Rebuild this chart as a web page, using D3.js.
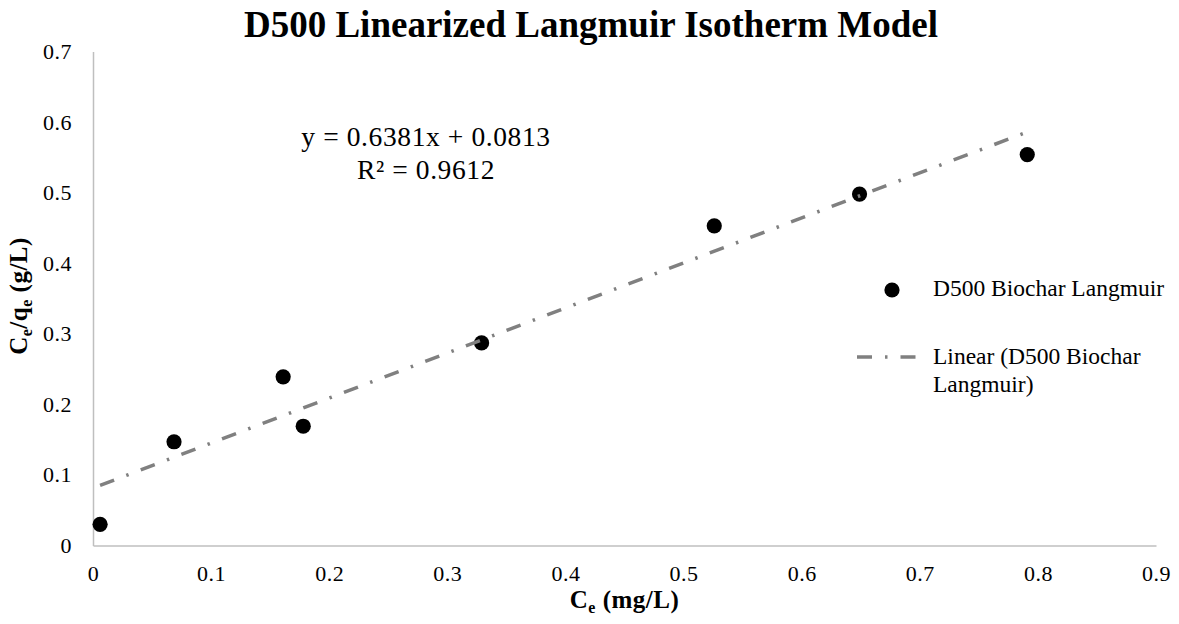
<!DOCTYPE html>
<html><head><meta charset="utf-8">
<script src="https://cdn.jsdelivr.net/npm/d3@7"></script>
<style>body{margin:0;background:#fff}svg{display:block}text{font-family:"Liberation Serif","Times New Roman",serif}</style>
</head><body><svg id="c" width="1179" height="624"></svg>
<script>
const ceValues = [0.006, 0.0686, 0.161, 0.178, 0.329, 0.526, 0.649, 0.791];
const ceQeValues = [0.030, 0.147, 0.239, 0.169, 0.287, 0.453, 0.498, 0.554];
const xTicks = [0, 0.1, 0.2, 0.3, 0.4, 0.5, 0.6, 0.7, 0.8, 0.9];
const yTicks = [0, 0.1, 0.2, 0.3, 0.4, 0.5, 0.6, 0.7];
const slope = 0.6381, intercept = 0.0813, r2 = 0.9612;
const titleText = "D500 Linearized Langmuir Isotherm Model";
const seriesName = "D500 Biochar Langmuir";

const svg = d3.select("#c");
const x = d3.scaleLinear().domain([0, 0.9]).range([93, 1156]);
const y = d3.scaleLinear().domain([0, 0.7]).range([545.5, 51.5]);

// axes
const xAxis = svg.append("g").attr("transform", `translate(0,${y(0)})`)
  .call(d3.axisBottom(x).tickValues(xTicks).tickSize(0).tickPadding(20).tickFormat(d => d === 0 ? "0" : d3.format(".1f")(d)));
const yAxis = svg.append("g").attr("transform", `translate(${x(0)},0)`)
  .call(d3.axisLeft(y).tickValues(yTicks).tickSize(0).tickPadding(21).tickFormat(d => d === 0 ? "0" : d3.format(".1f")(d)));
[xAxis, yAxis].forEach(g => {
  g.attr("font-family", null).attr("font-size", null);
  g.select(".domain").attr("stroke", "#bfbfbf").attr("stroke-width", 1.5);
  g.selectAll("text").style("font-family", "'Liberation Serif', serif").style("font-size", "22px").attr("fill", "#000")
    .attr("letter-spacing", 0.5);
});

// points
svg.append("g").selectAll("circle").data(ceValues).join("circle")
  .attr("cx", (d) => x(d)).attr("cy", (d, i) => y(ceQeValues[i])).attr("r", 7.6).attr("fill", "#000");

// trendline
const [xmin, xmax] = d3.extent(ceValues);
svg.append("line")
  .attr("x1", x(xmin)).attr("y1", y(intercept + slope * xmin))
  .attr("x2", x(xmax)).attr("y2", y(intercept + slope * xmax))
  .attr("stroke", "#808080").attr("stroke-width", 3.5)
  .attr("stroke-dasharray", "15,13,2.5,13");

// title
svg.append("text").attr("x", 591).attr("y", 37).attr("text-anchor", "middle")
  .attr("font-size", 37).attr("font-weight", "bold").text(titleText);

// equation
svg.append("text").attr("x", 426).attr("y", 146).attr("text-anchor", "middle").attr("font-size", 27.5)
  .attr("letter-spacing", 0.6).text(`y = ${slope}x + ${intercept}`);
svg.append("text").attr("x", 426).attr("y", 179).attr("text-anchor", "middle").attr("font-size", 27.5)
  .attr("letter-spacing", 0.6).text(`R² = ${r2}`);

// axis titles
const xt = svg.append("text").attr("x", 624.5).attr("y", 608).attr("text-anchor", "middle")
  .attr("font-size", 25).attr("font-weight", "bold").attr("letter-spacing", 0.5);
xt.append("tspan").text("C");
xt.append("tspan").attr("font-size", 16).attr("dy", 5).text("e");
xt.append("tspan").attr("dy", -5).text(" (mg/L)");

const yt = svg.append("text").attr("transform", "translate(27,296) rotate(-90)").attr("text-anchor", "middle")
  .attr("font-size", 25).attr("font-weight", "bold").attr("letter-spacing", 0.5);
yt.append("tspan").text("C");
yt.append("tspan").attr("font-size", 16).attr("dy", 5).text("e");
yt.append("tspan").attr("dy", -5).text("/q");
yt.append("tspan").attr("font-size", 16).attr("dy", 5).text("e");
yt.append("tspan").attr("dy", -5).text(" (g/L)");

// legend
const lg = svg.append("g");
lg.append("circle").attr("cx", 892).attr("cy", 290).attr("r", 7.6).attr("fill", "#000");
lg.append("text").attr("x", 933).attr("y", 296).attr("font-size", 23.5).text(seriesName);
lg.append("line").attr("x1", 857).attr("x2", 918).attr("y1", 357).attr("y2", 357)
  .attr("stroke", "#808080").attr("stroke-width", 3.5).attr("stroke-dasharray", "15,13,2.5,13");
lg.append("text").attr("x", 933).attr("y", 364).attr("font-size", 23.5).text(`Linear (${"D500 Biochar"}`);
lg.append("text").attr("x", 933).attr("y", 392).attr("font-size", 23.5).text("Langmuir)");
</script></body></html>
